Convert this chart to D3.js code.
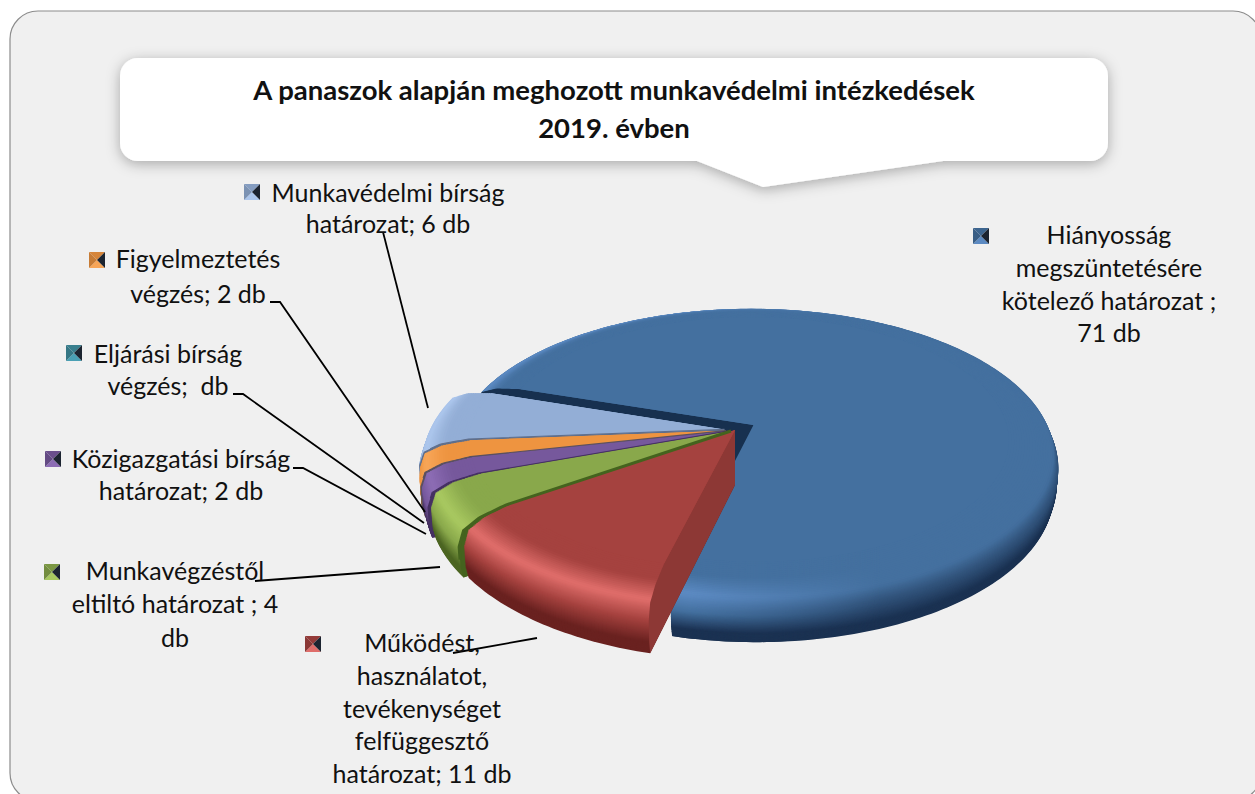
<!DOCTYPE html>
<html lang="hu">
<head>
<meta charset="UTF-8">
<title>Munkavédelmi intézkedések 2019</title>
<script src="https://cdnjs.cloudflare.com/ajax/libs/d3/7.8.5/d3.min.js"></script>
<style>
  html, body { margin: 0; padding: 0; background: #fff; overflow: hidden; }
  text { font-family: Lato, "Noto Sans", sans-serif; fill: #111; white-space: pre; }
</style>
</head>
<body>
<div id="chart"></div>
<script>
// data (Eljárási bírság has no number in the label, no slice either)
const values = [71, 11, 4, 2, 0, 2, 6];
const labelLines = [
  ["Hiányosság", "megszüntetésére", "kötelező határozat ;", "71 db"],
  ["Működést,", "használatot,", "tevékenységet", "felfüggesztő", "határozat; 11 db"],
  ["Munkavégzéstől", "eltiltó határozat ; 4", "db"],
  ["Közigazgatási bírság", "határozat; 2 db"],
  ["Eljárási bírság", "végzés;  db"],
  ["Figyelmeztetés", "végzés; 2 db"],
  ["Munkavédelmi bírság", "határozat; 6 db"]
];
const titleLines = ["A panaszok alapján meghozott munkavédelmi intézkedések", "2019. évben"];

// colours per slice: bottom of rim, highlight, top face, cut wall
const rimDark = ["#1b3252", "#6a2220", "#4d6623", "#46305f", "#245a68", "#8f5220", "#5c7297"];
const rimLight = ["#5c8ac2", "#df6d6a", "#a8c860", "#8c6cb4", "#4aa0b4", "#f7a557", "#acc6ec"];
const topFill = ["#44709f", "#a5423f", "#89a84b", "#76589c", "#3f8d9e", "#ee9440", "#93aed6"];
const wallFill = ["#17304f", "#8d3835", "#44631e", "#453062", "#245a68", "#5a5060", "#5f6f8c"];

// layout only
const width = 1255, height = 794;
const cx = 735, cy = 430, R = 303, Ry = 145, persp = 0.14;
const rimH = [46, 55, 54, 54, 54, 54, 54];
const explode = [0.07, 0, 0.015, 0.025, 0, 0.03, 0.035];
const startDeg = -72;
const labelX = [1109, 422, 175, 181, 168, 198, 388];
const labelY = [[244, 277, 310, 342], [652, 685, 718, 750, 783], [580, 613, 647], [468, 500], [363, 395], [268, 303], [202, 233]];
const markerPos = [[973, 228], [305, 636], [44, 564], [45, 451], [66, 345], [89, 252], [244, 184]];
const leaders = [
  [[453, 653], [537, 638]],
  [[255, 581], [440, 567]],
  [[293, 468], [303, 468], [426, 534]],
  [[233, 394], [243, 394], [424, 523]],
  [[270, 302], [280, 302], [425, 512]],
  [[383, 232], [428, 408]]
];

const svg = d3.select("#chart").append("svg")
  .attr("width", width).attr("height", height)
  .attr("viewBox", [0, 0, width, height]);

const defs = svg.append("defs");
defs.append("filter").attr("id", "soft")
  .attr("x", "-5%").attr("y", "-20%").attr("width", "110%").attr("height", "150%")
  .append("feDropShadow")
  .attr("dx", 0).attr("dy", 3).attr("stdDeviation", 7)
  .attr("flood-color", "#000").attr("flood-opacity", 0.3);

// highlight on the blue rim only shows towards the front left
const fade = defs.append("linearGradient").attr("id", "fadeGrad")
  .attr("gradientUnits", "userSpaceOnUse")
  .attr("x1", 690).attr("x2", 880).attr("y1", 0).attr("y2", 0);
fade.append("stop").attr("offset", 0).attr("stop-color", "#fff");
fade.append("stop").attr("offset", 1).attr("stop-color", "#000");
defs.append("mask").attr("id", "fadeMask")
  .attr("maskUnits", "userSpaceOnUse")
  .attr("x", 0).attr("y", 0).attr("width", width).attr("height", height)
  .append("rect").attr("width", width).attr("height", height).attr("fill", "url(#fadeGrad)");

// panel
svg.append("rect")
  .attr("x", 10).attr("y", 11).attr("width", 1251).attr("height", 790)
  .attr("rx", 28).attr("fill", "#f0f0f0").attr("stroke", "#8c8c8c").attr("stroke-width", 1.2);

// title callout
svg.append("path")
  .attr("d", "M138,58 H1090 a18,18 0 0 1 18,18 V143 a18,18 0 0 1 -18,18 H943 L763,187 L697,161 H138 a18,18 0 0 1 -18,-18 V76 a18,18 0 0 1 18,-18 Z")
  .attr("fill", "#fff").attr("filter", "url(#soft)");

svg.selectAll("text.title").data(titleLines).join("text")
  .attr("class", "title")
  .attr("x", 614).attr("y", (d, i) => 100 + i * 38)
  .attr("text-anchor", "middle")
  .attr("font-size", 27.5).attr("font-weight", 700)
  .text(d => d);

// ground disc -> screen, with a bit of perspective
function project(u, v, z) {
  const s = 1 / (1 - persp * v);
  return [cx + R * u * s, cy + Ry * v * s + z * s];
}

const pie = d3.pie().sort(null)
  .startAngle(startDeg * Math.PI / 180)
  .endAngle(startDeg * Math.PI / 180 + 2 * Math.PI);
const arcs = pie(values);
const line = d3.line();

function offset(d, i) {
  const mid = (d.startAngle + d.endAngle) / 2;
  return [explode[i] * Math.sin(mid), -explode[i] * Math.cos(mid)];
}

function slicePath(d, i, r, z) {
  const [ox, oy] = offset(d, i);
  const pts = [project(ox, oy, z)];
  const steps = Math.max(2, Math.ceil((d.endAngle - d.startAngle) / 0.02));
  d3.range(steps + 1).forEach(k => {
    const a = d.startAngle + (d.endAngle - d.startAngle) * k / steps;
    pts.push(project(ox + r * Math.sin(a), oy - r * Math.cos(a), z));
  });
  return line(pts) + "Z";
}

// rim profile: t=0 is the bottom edge, t=1 the flat top face
const layerT = d3.range(0, 1.0001, 1 / 70);
const profT = [0, 0.15, 0.45, 0.7, 0.85, 1];
const radius = d3.scaleLinear().domain(profT).range([0.985, 0.995, 1, 0.985, 0.93, 0.84]);
const depth = d3.scaleLinear().domain(profT).range([1, 0.8, 0.45, 0.2, 0.07, 0]);

function edgePoints(d, i, tMin) {
  const [ox, oy] = offset(d, i);
  const a = d.startAngle;
  return [project(ox, oy, 0)].concat(layerT.slice().reverse().filter(t => t >= tMin)
    .map(t => project(ox + radius(t) * Math.sin(a), oy - radius(t) * Math.cos(a), rimH[i] * depth(t))));
}

function wallPath(d, i) {
  const [ox, oy] = offset(d, i);
  return line(edgePoints(d, i, 0).concat([project(ox, oy, rimH[i])])) + "Z";
}

function drawStack(g, d, i, ramp) {
  g.selectAll("path.layer").data(layerT).join("path")
    .attr("class", "layer")
    .attr("d", t => slicePath(d, i, radius(t), rimH[i] * depth(t)))
    .attr("fill", t => ramp(t));
}

const pieG = svg.append("g");
[0, 6, 5, 4, 3, 2, 1].forEach(i => {
  const d = arcs[i];
  if (d.value === 0) return;
  const g = pieG.append("g");
  const mid = d3.interpolateRgb(rimDark[i], topFill[i])(0.55);
  const rampPlain = d3.scaleLinear().domain([0, 0.15, 0.5, 0.72, 1])
    .range([rimDark[i], rimDark[i], mid, topFill[i], topFill[i]]);
  const rampLit = d3.scaleLinear().domain([0, 0.15, 0.45, 0.72, 0.88, 1])
    .range([rimDark[i], rimDark[i], topFill[i], rimLight[i], topFill[i], topFill[i]]);
  if (i === 0) {
    drawStack(g, d, i, rampPlain);
    drawStack(g.append("g").attr("mask", "url(#fadeMask)"), d, i, rampLit);
  } else {
    drawStack(g, d, i, rampLit);
  }
  g.append("path").attr("d", wallPath(d, i)).attr("fill", wallFill[i]);
  g.append("path").attr("d", slicePath(d, i, radius(1), 0)).attr("fill", topFill[i]);
});

// dark seams between the neighbouring slices, green one is the heavy one
[[6, 1.1, 0.75], [5, 1.1, 0.6], [3, 1.1, 0.6], [2, 3, 0.25]].forEach(([i, w, tMin]) => {
  pieG.append("path")
    .attr("d", line(edgePoints(arcs[i], i, tMin)))
    .attr("fill", "none").attr("stroke", wallFill[i]).attr("stroke-width", w);
});

// leader lines
svg.selectAll("path.leader").data(leaders).join("path")
  .attr("class", "leader")
  .attr("d", d => d3.line()(d))
  .attr("fill", "none").attr("stroke", "#000").attr("stroke-width", 1.8);

// labels
const labels = svg.selectAll("g.label").data(labelLines).join("g").attr("class", "label");
labels.selectAll("text").data((d, i) => d.map((s, j) => ({ s, i, j }))).join("text")
  .attr("x", d => labelX[d.i])
  .attr("y", d => labelY[d.i][d.j])
  .attr("text-anchor", "middle")
  .attr("font-size", 25)
  .text(d => d.s);

// legend markers: small bevelled squares with a dark notch
const m = 16;
labels.each(function (d, i) {
  const g = d3.select(this).append("g").attr("transform", `translate(${markerPos[i]})`);
  const c = m / 2;
  const tris = [
    [[[0, 0], [m, 0], [c, c]], d3.color(topFill[i]).darker(0.3)],
    [[[0, m], [m, m], [c, c]], rimLight[i]],
    [[[0, 0], [0, m], [c, c]], d3.color(topFill[i]).darker(0.5)],
    [[[m, 0], [m, m], [c, c]], "#1c2430"]
  ];
  tris.forEach(t => g.append("path").attr("d", line(t[0]) + "Z").attr("fill", t[1]));
});
</script>
</body>
</html>
